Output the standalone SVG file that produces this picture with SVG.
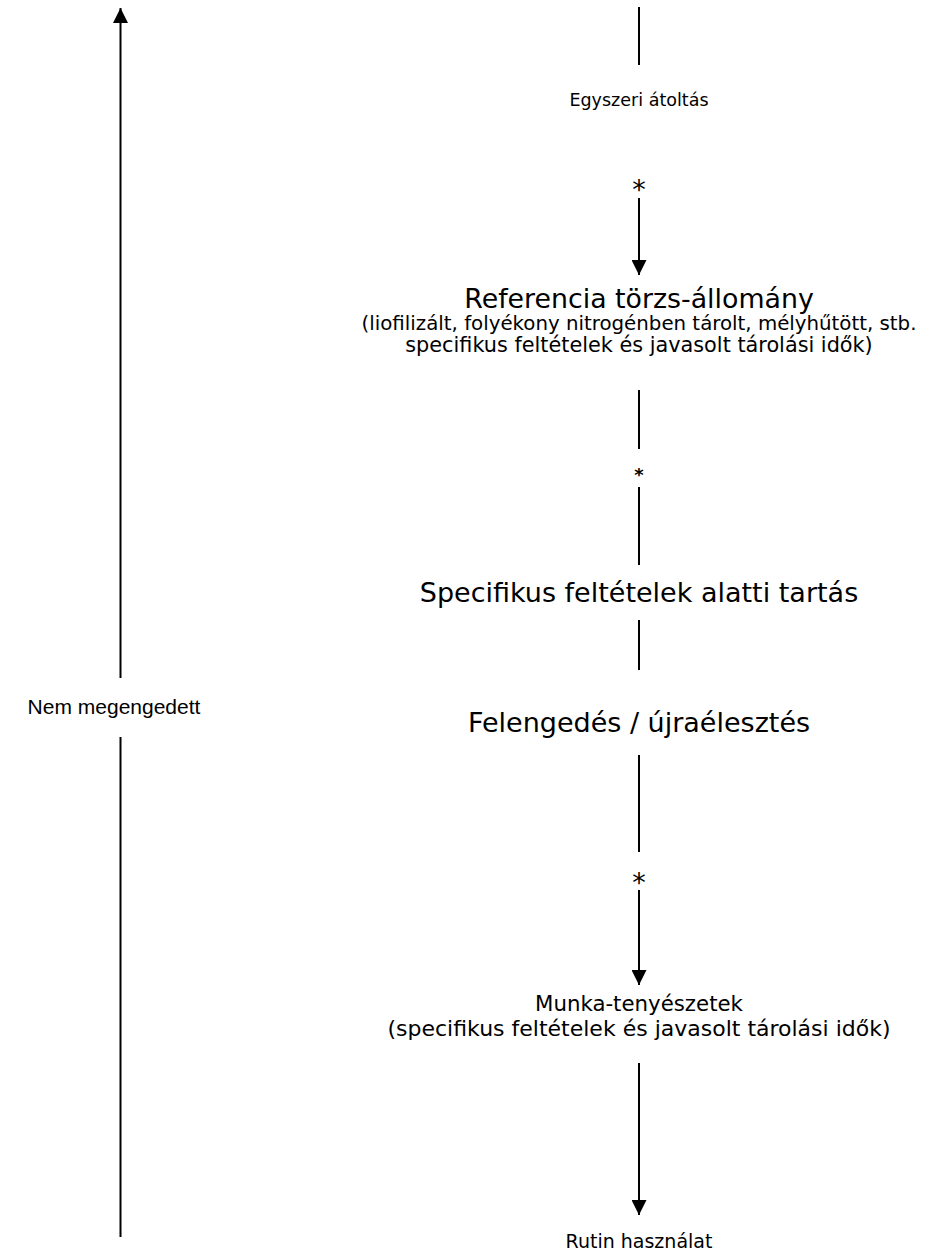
<svg xmlns="http://www.w3.org/2000/svg" width="944" height="1256" viewBox="0 0 944 1256">
<style>
.t{font-family:"DejaVu Sans",Verdana,sans-serif;fill:#000;text-anchor:middle}
.big{font-size:27px}
.ast{font-size:27px}
.l{stroke:#000;stroke-width:2;fill:none}
</style>
<defs>
<marker id="ah" viewBox="0 0 10 10" refX="10" refY="5" markerWidth="16" markerHeight="15" markerUnits="userSpaceOnUse" orient="auto"><path d="M0,0 L10,5 L0,10 Z" fill="#000"/></marker>
</defs>
<rect width="944" height="1256" fill="#fff"/>
<g id="connectors">
<line class="l" x1="639" y1="7" x2="639" y2="65"/>
<line class="l" x1="639" y1="198" x2="639" y2="275" marker-end="url(#ah)"/>
<line class="l" x1="639" y1="390" x2="639" y2="449"/>
<line class="l" x1="639" y1="487" x2="639" y2="565"/>
<line class="l" x1="639" y1="620" x2="639" y2="670"/>
<line class="l" x1="639" y1="755" x2="639" y2="852"/>
<line class="l" x1="639" y1="890" x2="639" y2="985" marker-end="url(#ah)"/>
<line class="l" x1="639" y1="1063" x2="639" y2="1215" marker-end="url(#ah)"/>
<line class="l" x1="120.5" y1="678" x2="120.5" y2="8" marker-end="url(#ah)"/>
<line class="l" x1="120.5" y1="737" x2="120.5" y2="1237"/>
</g>
<g id="n1"><text class="t" x="639" y="106" style="font-size:17.5px">Egyszeri átoltás</text></g>
<g id="a1"><text class="t ast" x="639" y="199">*</text></g>
<g id="n2"><text class="t" x="639" y="308" style="font-size:26.8px">Referencia törzs-állomány</text>
<text class="t" x="639" y="330" style="font-size:19.8px">(liofilizált, folyékony nitrogénben tárolt, mélyhűtött, stb.</text>
<text class="t" x="639" y="352" style="font-size:20.8px">specifikus feltételek és javasolt tárolási idők)</text></g>
<g id="a2"><text class="t" x="639" y="481" style="font-size:18px;font-weight:bold">*</text></g>
<g id="n3"><text class="t big" x="639" y="602">Specifikus feltételek alatti tartás</text></g>
<g id="n4"><text class="t big" x="639" y="732">Felengedés / újraélesztés</text></g>
<g id="a3"><text class="t ast" x="639" y="892">*</text></g>
<g id="n5"><text class="t" x="639" y="1011" style="font-size:21.3px">Munka-tenyészetek</text>
<text class="t" x="639" y="1036" style="font-size:22px">(specifikus feltételek és javasolt tárolási idők)</text></g>
<g id="n6"><text class="t" x="639" y="1248" style="font-size:19px">Rutin használat</text></g>
<g id="n7"><text x="114" y="714" style="font-family:'Liberation Sans',Arial,sans-serif;font-size:21px;text-anchor:middle">Nem megengedett</text></g>
</svg>
